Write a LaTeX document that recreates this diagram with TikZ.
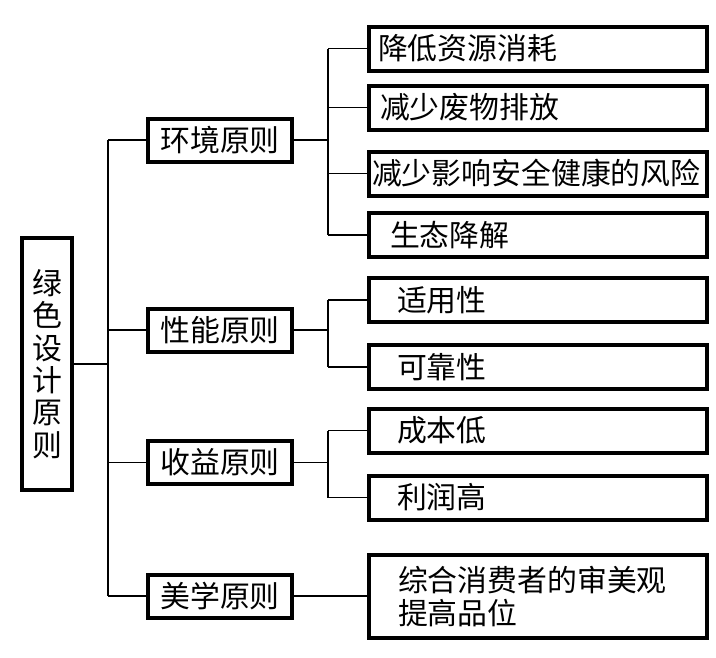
\documentclass[tikz,border=0pt]{standalone}
\usepackage{fontspec}
\newfontfamily\cjk{Noto Sans CJK SC}
\usetikzlibrary{calc}
\tikzset{
  BX/.style={draw=black, line width=0.08cm, inner ysep=0pt,
             font=\cjk\fontsize{17}{18.4}\selectfont},
  RT/.style={BX, minimum width=1.0cm, minimum height=5.04cm, align=center},
  MD/.style={BX, minimum width=2.88cm, minimum height=0.86cm},
  LF/.style={BX, minimum height=0.88cm, inner xsep=#1,
             text width=6.76cm-2*#1, align=left},
  LN/.style={line width=0.03cm},
}
\newcommand{\TrX}{108}
\newcommand{\SubX}{328}

\begin{document}
\begin{tikzpicture}[x=0.02cm, y=-0.02cm]
\useasboundingbox (0,0) rectangle (716,657);

%% ================================================================
%%  ROOT AND FIRST LEVEL
%% ================================================================
\node[RT] (root) at (47,364) {绿\\色\\设\\计\\原\\则};

\node[MD] (env)  at (220,140)   {环境原则};
\node[MD] (perf) at (220,330)   {性能原则};
\node[MD] (prof) at (220,462.5) {收益原则};
\node[MD] (aes)  at (220,596)   {美学原则};

\coordinate (trunk) at (\TrX,0);
\coordinate (sub)   at (\SubX,0);

% trunk
\draw[LN] (root.east) -- (root.east -| trunk);
\draw[LN] (env.west -| trunk) -- (aes.west -| trunk);
\foreach \m in {env,perf,prof,aes}
  \draw[LN] (\m.west -| trunk) -- (\m.west);

%% ================================================================
%%  LEAVES
%% ================================================================
\node[LF=0.18cm] (env1) at (538,48.5)  {降低资源消耗};
\node[LF=0.22cm] (env2) at (538,107.5) {减少废物排放};
\node[LF=0.06cm] (env3) at (538,173.5) {减少影响安全健康的风险};
\node[LF=0.42cm] (env4) at (538,235)   {生态降解};

\node[LF=0.56cm] (perf1) at (538,300) {适用性};
\node[LF=0.56cm] (perf2) at (538,367) {可靠性};

\node[LF=0.56cm] (prof1) at (538,430.5) {成本低};
\node[LF=0.56cm] (prof2) at (538,497.5) {利润高};

\node[LF=0.58cm, minimum height=1.66cm] (aes1) at (538,596.5)
  {综合消费者的审美观\\提高品位};

% sub trunks
\foreach \m/\a/\b in {env/env1/env4, perf/perf1/perf2, prof/prof1/prof2} {
  \draw[LN] (\m.east) -- (\m.east -| sub);
  \draw[LN] (\a.west -| sub) -- (\b.west -| sub);
}
\foreach \l in {env1,env2,env3,env4,perf1,perf2,prof1,prof2}
  \draw[LN] (\l.west -| sub) -- (\l.west);

\draw[LN] (aes.east) -- (aes.east -| aes1.west);

\end{tikzpicture}
\end{document}
